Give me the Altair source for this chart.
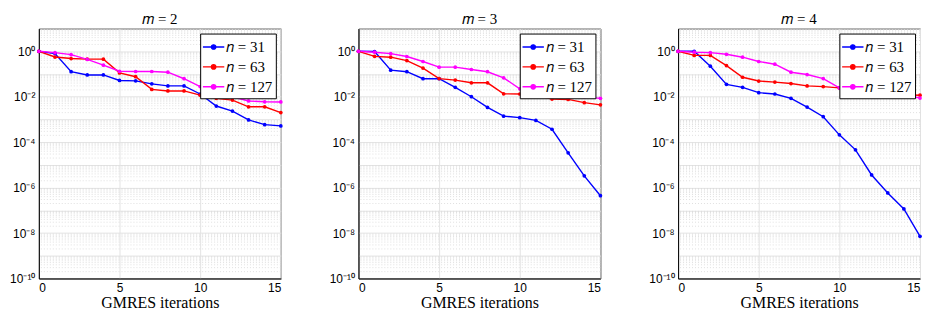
import altair as alt
import pandas as pd

iters = list(range(16))
n_labels = ["𝑛 = 31", "𝑛 = 63", "𝑛 = 127"]
panel_titles = ["𝑚 = 2", "𝑚 = 3", "𝑚 = 4"]
colors = ["#0000ff", "#ff0000", "#ff00ff"]

m2_n31 = [1, 0.79, 0.126, 0.091, 0.091, 0.052, 0.050, 0.037, 0.030, 0.030, 0.0132, 0.0039, 0.00234, 0.00095, 0.00059, 0.00052]
m2_n63 = [1, 0.56, 0.48, 0.45, 0.45, 0.112, 0.076, 0.021, 0.018, 0.018, 0.0117, 0.0085, 0.0071, 0.0036, 0.0036, 0.0020]
m2_n127 = [1, 0.87, 0.71, 0.44, 0.245, 0.132, 0.129, 0.129, 0.120, 0.062, 0.028, 0.0151, 0.0100, 0.0065, 0.0060, 0.0059]

m3_n31 = [1, 0.98, 0.148, 0.126, 0.062, 0.062, 0.026, 0.010, 0.0034, 0.0014, 0.0012, 0.00091, 0.00037, 3.4e-5, 3.3e-6, 4.4e-7]
m3_n63 = [1, 0.60, 0.55, 0.39, 0.182, 0.063, 0.054, 0.041, 0.041, 0.0135, 0.0132, 0.0115, 0.0079, 0.0076, 0.0055, 0.0044]
m3_n127 = [1, 0.91, 0.79, 0.59, 0.355, 0.200, 0.200, 0.158, 0.126, 0.068, 0.0224, 0.0158, 0.0115, 0.0098, 0.0098, 0.0085]

m4_n31 = [1, 1.0, 0.22, 0.035, 0.026, 0.0151, 0.0132, 0.0085, 0.0035, 0.00132, 0.00021, 4.6e-5, 3.6e-6, 5.8e-7, 1.15e-7, 7.2e-9]
m4_n63 = [1, 0.66, 0.66, 0.234, 0.072, 0.049, 0.044, 0.038, 0.030, 0.028, 0.0245, 0.0191, 0.0151, 0.0141, 0.0123, 0.0117]
m4_n127 = [1, 0.91, 0.87, 0.74, 0.55, 0.355, 0.27, 0.120, 0.095, 0.063, 0.0245, 0.0166, 0.0145, 0.0145, 0.0126, 0.0087]

panels = [
    [m2_n31, m2_n63, m2_n127],
    [m3_n31, m3_n63, m3_n127],
    [m4_n31, m4_n63, m4_n127],
]

major_y = [10.0 ** k for k in range(-10, 2)]
minor_y = [d * 10.0 ** k for k in range(-10, 1) for d in range(2, 10)]

label_expr = (
    "datum.value > 0.5 && datum.value < 2 ? '10⁰' : "
    "datum.value > 0.005 && datum.value < 0.02 ? '10⁻²' : "
    "datum.value > 5e-5 && datum.value < 2e-4 ? '10⁻⁴' : "
    "datum.value > 5e-7 && datum.value < 2e-6 ? '10⁻⁶' : "
    "datum.value > 5e-9 && datum.value < 2e-8 ? '10⁻⁸' : "
    "datum.value > 5e-11 && datum.value < 2e-10 ? '10⁻¹⁰' : ''"
)

SERIF = "Liberation Serif"
SANS = "Liberation Sans"

xscale = alt.Scale(domain=[0, 15], nice=False)
yscale = alt.Scale(type="log", domain=[1e-10, 10], nice=False)

LEGEND_SYMBOL = "M-1.1,0H-0.22A0.22,0.22,0,1,1,0.22,0A0.22,0.22,0,1,1,-0.22,0M0.22,0H1.1"

def make_panel(i):
    rows = []
    for j, series in enumerate(panels[i]):
        for it, v in zip(iters, series):
            rows.append({"iter": it, "res": v, "n": n_labels[j]})
    df = pd.DataFrame(rows)

    minor = alt.Chart(pd.DataFrame({"y": minor_y})).mark_rule(
        color="#d8d8d8", strokeDash=[1, 2], strokeWidth=0.8
    ).encode(y=alt.Y("y:Q", scale=yscale))

    lines = alt.Chart(df).mark_line(
        strokeWidth=1.4, point=alt.OverlayMarkDef(filled=True, size=14)
    ).encode(
        x=alt.X("iter:Q", scale=xscale,
                axis=alt.Axis(values=[0, 5, 10, 15], title="GMRES iterations",
                              format="d")),
        y=alt.Y("res:Q", scale=yscale,
                axis=alt.Axis(values=major_y, labelExpr=label_expr, title=None)),
        color=alt.Color("n:N", sort=n_labels,
                        scale=alt.Scale(domain=n_labels, range=colors),
                        legend=alt.Legend(
                            title=None, orient="top-right", offset=5,
                            strokeColor="black", fillColor="white",
                            padding=3, rowPadding=1, labelOffset=2,
                            labelFont=SERIF, labelFontSize=15,
                            symbolSize=380, symbolStrokeWidth=1.4,
                            symbolType=LEGEND_SYMBOL,
                        )),
        order="iter:Q",
    )
    return alt.layer(minor, lines).properties(
        width=243, height=251,
        title=alt.Title(panel_titles[i], font=SERIF, fontSize=15,
                        fontWeight="normal", offset=2),
    )

chart = alt.hconcat(*[make_panel(i) for i in range(3)], spacing=44).resolve_legend(
    color="independent"
).configure_view(stroke="black", strokeWidth=1).configure_axis(
    grid=True, gridColor="#e3e3e3", gridWidth=1,
    domainColor="black", domainWidth=1, ticks=False,
    labelFont=SANS, labelFontSize=12, labelColor="black", labelPadding=4,
    titleFont=SERIF, titleFontSize=16, titleFontWeight="normal", titleColor="black",
    titlePadding=1,
).properties(
    padding={"left": 1, "top": 2, "right": 0, "bottom": 0}
)

chart.save("out.html", embed_options={"renderer": "svg", "actions": False})
